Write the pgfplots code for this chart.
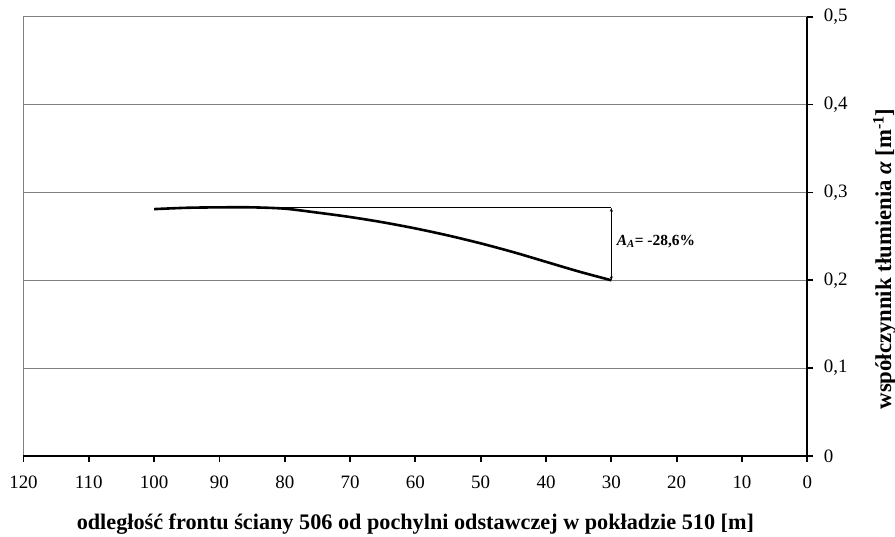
\documentclass[border=0pt]{standalone}
\usepackage{fontspec}
\setmainfont{Liberation Serif}
\usepackage{pgfplots}
\pgfplotsset{compat=1.18}
\usetikzlibrary{arrows.meta}
\begin{document}
\begin{tikzpicture}
\begin{axis}[
  scale only axis, width=783.8bp, height=439.3bp,
  x dir=reverse, xmin=0, xmax=120, ymin=0, ymax=0.5,
  xtick={0,10,20,30,40,50,60,70,80,90,100,110,120},
  ytick={0,0.1,0.2,0.3,0.4,0.5},
  ymajorgrids, grid style={black!50, line width=1.2bp},
  axis line style={draw=none},
  xtick pos=bottom, ytick pos=right,
  yticklabel pos=right,
  tick align=outside, major tick length=6bp,
  tick style={black, line width=1.8bp},
  /pgf/number format/assume math mode=true,
  yticklabel style={/pgf/number format/use comma, /pgf/number format/fixed, /pgf/number format/precision=1, xshift=7bp, font=\fontsize{19}{21}\selectfont},
  xticklabel style={yshift=-10.5bp, font=\fontsize{19}{21}\selectfont},
  xlabel={odległość frontu ściany 506 od pochylni odstawczej w pokładzie 510 [m]},
  ylabel={współczynnik tłumienia {\itshape α} [m\textsuperscript{-1}]},
  xlabel style={at={(rel axis cs:0.5,0)}, anchor=base, yshift=-74bp, font=\bfseries\fontsize{22.3}{24}\selectfont},
  ylabel style={at={(rel axis cs:1,0.4485)}, anchor=base, yshift=-83.7bp, font=\bfseries\fontsize{22.8}{24}\selectfont},
  clip=false,
]
\addplot[black, line width=2.6bp, smooth] coordinates {
 (100,0.281) (95,0.2825) (90,0.283) (85,0.283) (80,0.2815) (75,0.277)
 (70,0.272) (65,0.266) (60,0.259) (55,0.251) (50,0.242) (45,0.232)
 (40,0.221) (35,0.210) (30,0.200)
};
\draw[black, line width=0.6bp] (axis cs:88,0.2825) -- (axis cs:30,0.2825);
\draw[black, line width=0.6bp, {Stealth[length=4bp,width=3bp]}-{Stealth[length=4bp,width=3bp]}] (axis cs:30,0.2) -- (axis cs:30,0.2825);
\node[anchor=west, font=\bfseries\fontsize{15.5}{18}\selectfont, inner sep=0pt] at (axis cs:29.2,0.2445) {\textit{A}\textsubscript{\textit{A}}= -28,6\%};
\draw[black!50, line width=1.2bp] (rel axis cs:0,0) -- (rel axis cs:0,1);
\draw[black, line width=2.2bp] (rel axis cs:0,0) -- (rel axis cs:1,0) -- (rel axis cs:1,1);
\end{axis}
\pgfresetboundingbox
\path[use as bounding box] ([xshift=-23.5bp,yshift=-81bp]current axis.south west) rectangle ([xshift=87.7bp,yshift=16.7bp]current axis.north east);
\end{tikzpicture}
\end{document}
